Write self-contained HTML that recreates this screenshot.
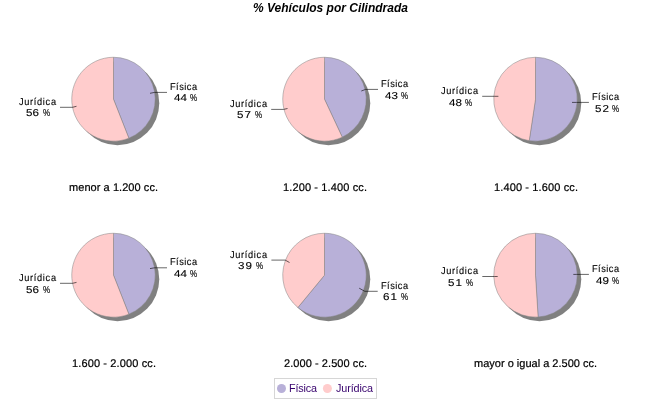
<!DOCTYPE html>
<html><head><meta charset="utf-8"><style>
html,body{margin:0;padding:0;background:#fff;width:650px;height:400px;overflow:hidden}
svg{display:block;will-change:transform}
text{font-family:"Liberation Sans",sans-serif}
.lab{font-size:10px;text-rendering:geometricPrecision;fill:#000;stroke:#000;stroke-width:0.12px}
.cat{font-size:11px;fill:#000;text-rendering:geometricPrecision;stroke:#000;stroke-width:0.2px}
.title{font-size:12px;font-weight:bold;font-style:italic;text-anchor:middle;fill:#000}
.leg{font-size:10.8px;fill:#36006c}
</style></head><body>
<svg width="650" height="400" viewBox="0 0 650 400">
<rect width="650" height="400" fill="#fff"/>
<text class="title" x="330.5" y="11.8">% Vehículos por Cilindrada</text>
<ellipse cx="117.5" cy="103.2" rx="41.75" ry="41.95" fill="#808080"/>
<path d="M113.5,99.2 L113.5,57.25 A41.75,41.95 0 0 1 128.869,138.204 Z" fill="#b8b0d8" stroke="#808080" stroke-width="0.5"/>
<path d="M113.5,99.2 L128.869,138.204 A41.75,41.95 0 1 1 113.5,57.25 Z" fill="#ffcccc" stroke="#808080" stroke-width="0.5"/>
<polyline points="167,92.4 154.5,92.4 150,93.3" fill="none" stroke="#000" stroke-width="0.6"/>
<polyline points="60,107.3 72.5,107.3 76.5,106.3" fill="none" stroke="#000" stroke-width="0.6"/>
<ellipse cx="328.5" cy="103.2" rx="41.75" ry="41.95" fill="#808080"/>
<path d="M324.5,99.2 L324.5,57.25 A41.75,41.95 0 0 1 342.276,137.157 Z" fill="#b8b0d8" stroke="#808080" stroke-width="0.5"/>
<path d="M324.5,99.2 L342.276,137.157 A41.75,41.95 0 1 1 324.5,57.25 Z" fill="#ffcccc" stroke="#808080" stroke-width="0.5"/>
<polyline points="378,89.4 365.5,89.4 361.3,91" fill="none" stroke="#000" stroke-width="0.6"/>
<polyline points="271.2,109.4 283.5,109.4 287.5,108.5" fill="none" stroke="#000" stroke-width="0.6"/>
<ellipse cx="539.5" cy="103.2" rx="41.75" ry="41.95" fill="#808080"/>
<path d="M535.5,99.2 L535.5,57.25 A41.75,41.95 0 1 1 529.228,140.674 Z" fill="#b8b0d8" stroke="#808080" stroke-width="0.5"/>
<path d="M535.5,99.2 L529.228,140.674 A41.75,41.95 0 0 1 535.5,57.25 Z" fill="#ffcccc" stroke="#808080" stroke-width="0.5"/>
<polyline points="588.9,102.4 576.5,102.4 572,102.4" fill="none" stroke="#000" stroke-width="0.6"/>
<polyline points="482.2,96.3 494.5,96.3 498.4,96.3" fill="none" stroke="#000" stroke-width="0.6"/>
<ellipse cx="117.5" cy="279.2" rx="41.75" ry="41.95" fill="#808080"/>
<path d="M113.5,275.2 L113.5,233.25 A41.75,41.95 0 0 1 128.869,314.204 Z" fill="#b8b0d8" stroke="#808080" stroke-width="0.5"/>
<path d="M113.5,275.2 L128.869,314.204 A41.75,41.95 0 1 1 113.5,233.25 Z" fill="#ffcccc" stroke="#808080" stroke-width="0.5"/>
<polyline points="167,267.8 154.5,267.8 150,268.6" fill="none" stroke="#000" stroke-width="0.6"/>
<polyline points="60,283.3 72.5,283.3 76.5,282.4" fill="none" stroke="#000" stroke-width="0.6"/>
<ellipse cx="328.5" cy="279.2" rx="41.75" ry="41.95" fill="#808080"/>
<path d="M324.5,275.2 L324.5,233.25 A41.75,41.95 0 1 1 297.888,307.523 Z" fill="#b8b0d8" stroke="#808080" stroke-width="0.5"/>
<path d="M324.5,275.2 L297.888,307.523 A41.75,41.95 0 0 1 324.5,233.25 Z" fill="#ffcccc" stroke="#808080" stroke-width="0.5"/>
<polyline points="377.7,291.3 364.8,291.3 359.2,288.2" fill="none" stroke="#000" stroke-width="0.6"/>
<polyline points="271.4,260.1 285.2,260.1 289.5,262.5" fill="none" stroke="#000" stroke-width="0.6"/>
<ellipse cx="539.5" cy="279.2" rx="41.75" ry="41.95" fill="#808080"/>
<path d="M535.5,275.2 L535.5,233.25 A41.75,41.95 0 0 1 538.122,317.067 Z" fill="#b8b0d8" stroke="#808080" stroke-width="0.5"/>
<path d="M535.5,275.2 L538.122,317.067 A41.75,41.95 0 1 1 535.5,233.25 Z" fill="#ffcccc" stroke="#808080" stroke-width="0.5"/>
<polyline points="588.9,274.4 576.5,274.4 573.3,274.4" fill="none" stroke="#000" stroke-width="0.6"/>
<polyline points="482.3,276.5 494.5,276.5 497.7,276.5" fill="none" stroke="#000" stroke-width="0.6"/>
<text class="lab" transform="translate(170.00,90.00) scale(0.92,1)" textLength="29.35" lengthAdjust="spacing">Física</text>
<text class="lab" transform="translate(174.00,101.00) scale(1.16,1)" textLength="11.21" lengthAdjust="spacing">44</text>
<text class="lab" transform="translate(190.00,101.00) scale(0.8,1)" textLength="1.25" lengthAdjust="spacing">%</text>
<text class="lab" transform="translate(19.00,105.00) scale(0.92,1)" textLength="40.22" lengthAdjust="spacing">Jurídica</text>
<text class="lab" transform="translate(26.00,116.00) scale(1.16,1)" textLength="11.21" lengthAdjust="spacing">56</text>
<text class="lab" transform="translate(43.00,116.00) scale(0.8,1)" textLength="1.25" lengthAdjust="spacing">%</text>
<text class="lab" transform="translate(381.00,87.00) scale(0.92,1)" textLength="29.35" lengthAdjust="spacing">Física</text>
<text class="lab" transform="translate(385.00,99.00) scale(1.16,1)" textLength="11.21" lengthAdjust="spacing">43</text>
<text class="lab" transform="translate(401.00,99.00) scale(0.8,1)" textLength="1.25" lengthAdjust="spacing">%</text>
<text class="lab" transform="translate(230.00,107.00) scale(0.92,1)" textLength="40.22" lengthAdjust="spacing">Jurídica</text>
<text class="lab" transform="translate(237.00,118.00) scale(1.16,1)" textLength="12.07" lengthAdjust="spacing">57</text>
<text class="lab" transform="translate(255.00,118.00) scale(0.8,1)" textLength="1.25" lengthAdjust="spacing">%</text>
<text class="lab" transform="translate(441.00,94.00) scale(0.92,1)" textLength="40.22" lengthAdjust="spacing">Jurídica</text>
<text class="lab" transform="translate(449.00,106.00) scale(1.16,1)" textLength="11.21" lengthAdjust="spacing">48</text>
<text class="lab" transform="translate(465.00,106.00) scale(0.8,1)" textLength="1.25" lengthAdjust="spacing">%</text>
<text class="lab" transform="translate(592.00,100.00) scale(0.92,1)" textLength="29.35" lengthAdjust="spacing">Física</text>
<text class="lab" transform="translate(595.00,112.00) scale(1.16,1)" textLength="12.07" lengthAdjust="spacing">52</text>
<text class="lab" transform="translate(612.00,112.00) scale(0.8,1)" textLength="1.25" lengthAdjust="spacing">%</text>
<text class="lab" transform="translate(19.00,281.00) scale(0.92,1)" textLength="40.22" lengthAdjust="spacing">Jurídica</text>
<text class="lab" transform="translate(26.00,293.00) scale(1.16,1)" textLength="11.21" lengthAdjust="spacing">56</text>
<text class="lab" transform="translate(43.00,293.00) scale(0.8,1)" textLength="1.25" lengthAdjust="spacing">%</text>
<text class="lab" transform="translate(170.00,265.00) scale(0.92,1)" textLength="29.35" lengthAdjust="spacing">Física</text>
<text class="lab" transform="translate(174.00,277.00) scale(1.16,1)" textLength="11.21" lengthAdjust="spacing">44</text>
<text class="lab" transform="translate(190.00,277.00) scale(0.8,1)" textLength="1.25" lengthAdjust="spacing">%</text>
<text class="lab" transform="translate(230.00,258.00) scale(0.92,1)" textLength="40.22" lengthAdjust="spacing">Jurídica</text>
<text class="lab" transform="translate(238.00,269.00) scale(1.16,1)" textLength="12.07" lengthAdjust="spacing">39</text>
<text class="lab" transform="translate(256.00,269.00) scale(0.8,1)" textLength="1.25" lengthAdjust="spacing">%</text>
<text class="lab" transform="translate(381.00,289.00) scale(0.92,1)" textLength="29.35" lengthAdjust="spacing">Física</text>
<text class="lab" transform="translate(383.00,300.00) scale(1.16,1)" textLength="12.07" lengthAdjust="spacing">61</text>
<text class="lab" transform="translate(401.00,300.00) scale(0.8,1)" textLength="1.25" lengthAdjust="spacing">%</text>
<text class="lab" transform="translate(441.00,274.00) scale(0.92,1)" textLength="40.22" lengthAdjust="spacing">Jurídica</text>
<text class="lab" transform="translate(448.00,286.00) scale(1.16,1)" textLength="12.07" lengthAdjust="spacing">51</text>
<text class="lab" transform="translate(466.00,286.00) scale(0.8,1)" textLength="1.25" lengthAdjust="spacing">%</text>
<text class="lab" transform="translate(592.00,272.00) scale(0.92,1)" textLength="29.35" lengthAdjust="spacing">Física</text>
<text class="lab" transform="translate(596.00,284.00) scale(1.16,1)" textLength="11.21" lengthAdjust="spacing">49</text>
<text class="lab" transform="translate(612.00,284.00) scale(0.8,1)" textLength="1.25" lengthAdjust="spacing">%</text>
<text class="cat" transform="translate(69.00,191.00) scale(1.0,1)" textLength="89.00" lengthAdjust="spacing">menor a 1.200 cc.</text>
<text class="cat" transform="translate(283.00,191.00) scale(1.0,1)" textLength="84.00" lengthAdjust="spacing">1.200 - 1.400 cc.</text>
<text class="cat" transform="translate(494.00,191.00) scale(1.0,1)" textLength="84.00" lengthAdjust="spacing">1.400 - 1.600 cc.</text>
<text class="cat" transform="translate(72.00,367.00) scale(1.0,1)" textLength="84.00" lengthAdjust="spacing">1.600 - 2.000 cc.</text>
<text class="cat" transform="translate(284.00,367.00) scale(1.0,1)" textLength="83.00" lengthAdjust="spacing">2.000 - 2.500 cc.</text>
<text class="cat" transform="translate(474.00,367.00) scale(1.0,1)" textLength="123.00" lengthAdjust="spacing">mayor o igual a 2.500 cc.</text>
<text class="leg" transform="translate(289.00,392.00) scale(1.0,1)" textLength="28.00" lengthAdjust="spacing">Física</text>
<text class="leg" transform="translate(336.00,392.00) scale(1.0,1)" textLength="37.00" lengthAdjust="spacing">Jurídica</text>
<rect x="274.5" y="378.5" width="102" height="20" fill="none" stroke="#d6d6d6" stroke-width="1"/>
<circle cx="281.5" cy="388.5" r="4.5" fill="#b8b0d8"/>
<circle cx="327.4" cy="388.5" r="4.5" fill="#ffcccc"/>
</svg>
</body></html>
